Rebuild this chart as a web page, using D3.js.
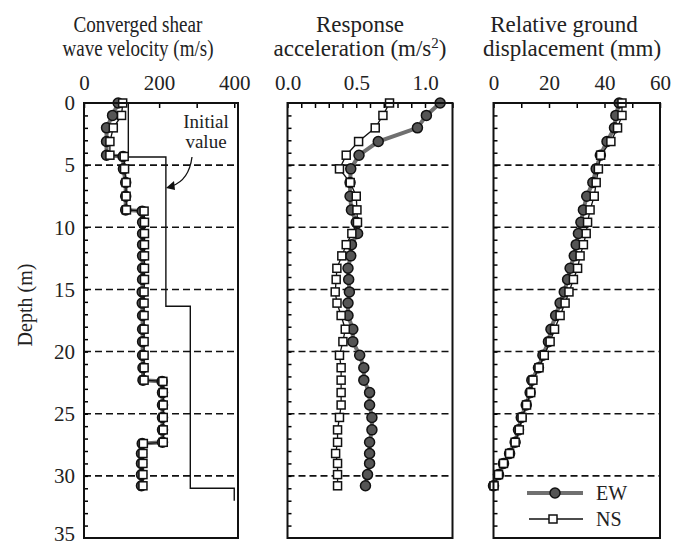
<!DOCTYPE html>
<html>
<head>
<meta charset="utf-8">
<script src="https://cdn.jsdelivr.net/npm/d3@7"></script>
<style>
  body { margin: 0; background: #fff; }
  svg text { font-family: "Liberation Serif", "Times New Roman", serif; fill: #222; }
</style>
</head>
<body>
<div id="chart"></div>
<script>
// depths (m) of the sampling points used by acceleration and displacement
var depths = [0, 1, 2, 3.1, 4.2, 5.3, 6.4, 7.5, 8.6, 9.6, 10.5, 11.4, 12.3, 13.3, 14.2, 15.2,
              16.1, 17.1, 18.2, 19.2, 20.3, 21.3, 22.3, 23.3, 24.3, 25.3, 26.3, 27.3, 28.2, 29.0, 29.9, 30.8];

var accEW = [1.11, 1.01, 0.945, 0.66, 0.52, 0.46, 0.455, 0.455, 0.465, 0.50, 0.51, 0.465, 0.46, 0.44, 0.445, 0.45,
             0.44, 0.44, 0.475, 0.475, 0.525, 0.555, 0.555, 0.597, 0.597, 0.614, 0.614, 0.597, 0.597, 0.597, 0.582, 0.567];
var accNS = [0.742, 0.694, 0.638, 0.517, 0.427, 0.378, 0.456, 0.50, 0.505, 0.509, 0.468, 0.427, 0.395, 0.359, 0.354, 0.347,
             0.36, 0.39, 0.42, 0.403, 0.378, 0.39, 0.39, 0.39, 0.39, 0.378, 0.364, 0.364, 0.35, 0.364, 0.364, 0.364];

var dispEW = [45.3, 44.1, 43.6, 40.9, 38.5, 37.0, 35.8, 33.6, 32.4, 31.5, 30.6, 29.8, 29.1, 27.6, 26.7, 25.5,
              24.0, 22.4, 20.7, 19.8, 17.8, 16.2, 13.8, 13.2, 11.8, 10.0, 9.0, 7.8, 5.8, 3.6, 1.8, 0];
var dispNS = [46.3, 46.3, 44.7, 42.3, 38.6, 37.8, 37.0, 36.3, 34.8, 33.9, 33.4, 32.4, 31.2, 30.3, 28.8, 27.2,
              25.8, 24.0, 22.0, 20.4, 18.3, 16.4, 14.2, 13.4, 11.9, 10.3, 9.3, 7.8, 5.8, 3.6, 1.8, 0.2];

// converged shear wave velocity, layer boundaries carry two points
var vsDepths = [0, 1, 2, 3.1, 4.2, 4.3, 5.3, 6.4, 7.5, 8.6, 8.7, 9.6, 10.5, 11.4, 12.3, 13.3, 14.2, 15.2,
                16.1, 17.1, 18.2, 19.2, 20.3, 21.3, 22.3, 22.4, 23.3, 24.3, 25.3, 26.3, 27.3, 27.4, 28.2, 29.0, 29.9, 30.8];
var vsEW = [91, 76, 60, 60, 60, 104, 105, 111, 111, 111, 155, 156, 156, 156, 156, 156, 156, 155,
            155, 156, 156, 156, 156, 157, 157, 208, 209, 209, 209, 209, 209, 155, 153, 153, 153, 153];
var vsNS = [103, 100, 78, 69, 69, 107, 108, 112, 112, 113, 160, 161, 161, 161, 161, 161, 161, 160,
            160, 160, 160, 160, 160, 160, 160, 210, 211, 211, 211, 211, 211, 158, 157, 157, 157, 157];

// initial value profile
var initDepths = [0, 4.35, 4.35, 16.35, 16.35, 31, 31, 32];
var initVs = [118, 118, 218, 218, 283, 283, 400, 400];

var depthTicks = [0, 5, 10, 15, 20, 25, 30, 35];
var gridDepths = [5, 10, 15, 20, 25, 30];
var vsTicks = [0, 200, 400];
var accTicks = [0.0, 0.5, 1.0];
var dispTicks = [0, 20, 40, 60];

var w = 673, h = 548;
var top0 = 103, bot = 538;

var svg = d3.select("#chart").append("svg")
  .attr("width", w)
  .attr("height", h);

var y = d3.scaleLinear().domain([0, 35]).range([top0, bot]);

var EW_LINE = "#707070", EW_FILL = "#555";

function drawPanel(p) {
  var x = d3.scaleLinear().domain(p.domain).range(p.range);
  var g = svg.append("g");

  // dashed depth lines
  g.selectAll("line.grid")
    .data(gridDepths)
    .enter().append("line")
    .attr("x1", p.range[0]).attr("x2", p.range[1])
    .attr("y1", function(d) { return y(d); })
    .attr("y2", function(d) { return y(d); })
    .attr("stroke", "#111")
    .attr("stroke-width", 1.6)
    .attr("stroke-dasharray", "7,4");

  // top minor ticks (inward)
  g.append("g")
    .attr("transform", "translate(0," + top0 + ")")
    .call(d3.axisTop(x).tickValues(p.minor).tickSize(-5).tickFormat(""))
    .call(function(s) { s.select(".domain").remove(); s.selectAll("line").attr("stroke-width", 1.5); });
  // top labels
  g.append("g")
    .attr("transform", "translate(0," + top0 + ")")
    .call(d3.axisTop(x).tickValues(p.labels).tickSize(0).tickPadding(13).tickFormat(p.fmt))
    .call(function(s) {
      s.select(".domain").remove();
      s.selectAll("text").attr("font-size", 21).attr("font-family", "Liberation Serif").attr("fill", "#222");
    });

  // left minor ticks every 1 m (inward)
  g.append("g")
    .attr("transform", "translate(" + p.range[0] + ",0)")
    .call(d3.axisLeft(y).tickValues(d3.range(1, 35)).tickSize(-4).tickFormat(""))
    .call(function(s) { s.select(".domain").remove(); s.selectAll("line").attr("stroke-width", 1.5); });

  if (p.extra) p.extra(g, x);

  var line = d3.line().x(function(d) { return x(d[0]); }).y(function(d) { return y(d[1]); });
  var ew = d3.zip(p.ew, p.ewDepth), ns = d3.zip(p.ns, p.nsDepth);

  g.append("path").datum(ew)
    .attr("d", line).attr("fill", "none")
    .attr("stroke", EW_LINE).attr("stroke-width", 4);
  g.append("path").datum(ns)
    .attr("d", line).attr("fill", "none")
    .attr("stroke", "#111").attr("stroke-width", 1.3);

  g.selectAll("circle.ew")
    .data(ew)
    .enter().append("circle")
    .attr("cx", function(d) { return x(d[0]); })
    .attr("cy", function(d) { return y(d[1]); })
    .attr("r", 5)
    .attr("fill", EW_FILL)
    .attr("stroke", "#111")
    .attr("stroke-width", 1.5);

  g.selectAll("rect.ns")
    .data(ns)
    .enter().append("rect")
    .attr("x", function(d) { return x(d[0]) - 4; })
    .attr("y", function(d) { return y(d[1]) - 4; })
    .attr("width", 8).attr("height", 8)
    .attr("fill", "#fff")
    .attr("stroke", "#111")
    .attr("stroke-width", 1.5);

  // frame
  g.append("rect")
    .attr("x", p.range[0]).attr("y", top0)
    .attr("width", p.range[1] - p.range[0]).attr("height", bot - top0)
    .attr("fill", "none").attr("stroke", "#111").attr("stroke-width", 2);

  // title, two lines
  var t = g.append("text")
    .attr("text-anchor", "middle")
    .attr("font-size", 23);
  var t1 = t.append("tspan").attr("x", p.titleX[0]).attr("y", 32).text(p.title[0]);
  var t2 = t.append("tspan").attr("x", p.titleX[1]).attr("y", 56).text(p.title[1]);
  if (p.titleLen) {
    t1.attr("textLength", p.titleLen[0]).attr("lengthAdjust", "spacingAndGlyphs");
    t2.attr("textLength", p.titleLen[1]).attr("lengthAdjust", "spacingAndGlyphs");
  }
  if (p.sup) {
    t2.append("tspan").attr("font-size", 15).attr("dy", -8).text(p.sup);
    t2.append("tspan").attr("dy", 8).text(")");
  }
  return x;
}

// panel 1: shear wave velocity
drawPanel({
  domain: [0, 410], range: [84, 238],
  minor: [0, 100, 200, 300, 400], labels: vsTicks, fmt: d3.format("d"),
  ew: vsEW, ewDepth: vsDepths, ns: vsNS, nsDepth: vsDepths,
  title: ["Converged shear", "wave velocity (m/s)"], titleX: [138, 138], titleLen: [129, 151],
  extra: function(g, x) {
    g.append("path")
      .datum(d3.zip(initVs, initDepths))
      .attr("d", d3.line().x(function(d) { return x(d[0]); }).y(function(d) { return y(d[1]); }))
      .attr("fill", "none").attr("stroke", "#111").attr("stroke-width", 1.4);
    g.append("text").attr("text-anchor", "middle").attr("font-size", 19)
      .attr("x", 206).attr("y", 128).text("Initial");
    g.append("text").attr("text-anchor", "middle").attr("font-size", 19)
      .attr("x", 206).attr("y", 148).text("value");
    g.append("path")
      .attr("d", "M192,157 Q189,180 172,186")
      .attr("fill", "none").attr("stroke", "#111").attr("stroke-width", 1.3);
    g.append("path")
      .attr("d", "M166,188 L174,181 L175,190 Z")
      .attr("fill", "#111");
  }
});

// panel 2: response acceleration
drawPanel({
  domain: [0, 1.2], range: [287.5, 452.5],
  minor: d3.range(0, 13).map(function(i) { return i / 10; }), labels: accTicks, fmt: d3.format(".1f"),
  ew: accEW, ewDepth: depths, ns: accNS, nsDepth: depths,
  title: ["Response", "acceleration (m/s"], sup: "2", titleX: [360, 360]
});

// panel 3: relative ground displacement
drawPanel({
  domain: [0, 60], range: [493.5, 660],
  minor: [0, 10, 20, 30, 40, 50, 60], labels: dispTicks, fmt: d3.format("d"),
  ew: dispEW, ewDepth: depths, ns: dispNS, nsDepth: depths,
  title: ["Relative ground", "displacement (mm)"], titleX: [564, 572]
});

// depth axis labels
svg.append("g")
  .attr("transform", "translate(84,0)")
  .call(d3.axisLeft(y).tickValues(depthTicks).tickSize(0).tickPadding(9))
  .call(function(s) {
    s.select(".domain").remove();
    s.selectAll("text").attr("font-size", 21).attr("font-family", "Liberation Serif").attr("fill", "#222")
      .attr("dy", function(d) { return d === 35 ? "0.1em" : "0.32em"; });
  });

svg.append("text")
  .attr("transform", "translate(32,305) rotate(-90)")
  .attr("text-anchor", "middle")
  .attr("font-size", 20)
  .text("Depth (m)");

// legend
var lg = svg.append("g");
lg.append("line").attr("x1", 527).attr("x2", 583).attr("y1", 493).attr("y2", 493)
  .attr("stroke", EW_LINE).attr("stroke-width", 4);
lg.append("circle").attr("cx", 555).attr("cy", 493).attr("r", 5)
  .attr("fill", EW_FILL).attr("stroke", "#111").attr("stroke-width", 1.5);
lg.append("text").attr("x", 596).attr("y", 500).attr("font-size", 20).text("EW");
lg.append("line").attr("x1", 529).attr("x2", 583).attr("y1", 519).attr("y2", 519)
  .attr("stroke", "#111").attr("stroke-width", 1.3);
lg.append("rect").attr("x", 549).attr("y", 515).attr("width", 8).attr("height", 8)
  .attr("fill", "#fff").attr("stroke", "#111").attr("stroke-width", 1.5);
lg.append("text").attr("x", 596).attr("y", 526).attr("font-size", 20).text("NS");
</script>
</body>
</html>
